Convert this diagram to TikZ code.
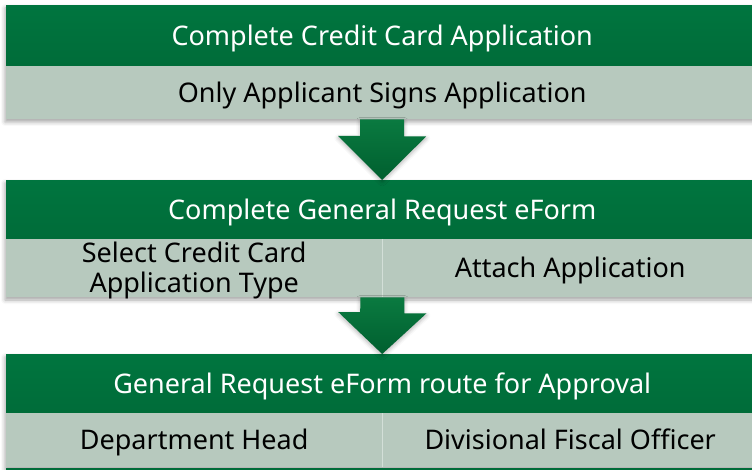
\documentclass[tikz,border=0pt]{standalone}
\usepackage{fontspec}
\setmainfont{Noto Sans}
\usetikzlibrary{shadows.blur}
\definecolor{hdrgreen}{HTML}{00753F}
\definecolor{hdrgreendark}{HTML}{006C39}
\definecolor{bandgray}{HTML}{B7C9BE}
\definecolor{arrowtop}{HTML}{0A7A40}
\definecolor{arrowtip}{HTML}{005F2F}
\definecolor{divider}{HTML}{D3DFD8}
\begin{document}
\begin{tikzpicture}[x=1pt,y=-1pt,
  txt/.style={font=\fontsize{27}{29}\selectfont, align=center, inner sep=0pt},
  oneline/.style={text height=19.3pt, text depth=0pt},
  header/.style={txt, oneline, text=white, anchor=north west, minimum width=752pt,
    top color=hdrgreen, bottom color=hdrgreendark, draw=none},
  band/.style={txt, text=black, anchor=north west, fill=bandgray, draw=none},
  shadowbox/.style={fill=white, draw=none,
    blur shadow={shadow xshift=-1pt, shadow yshift=-3pt, shadow blur radius=4pt, shadow opacity=35}},
  flowarrow/.style={top color=arrowtop, bottom color=arrowtip, draw=none,
    blur shadow={shadow xshift=0pt, shadow yshift=-2pt, shadow blur radius=4pt, shadow opacity=30}}
]
\useasboundingbox (0,0) rectangle (752,470);
\clip (0,0) rectangle (752,470);

% soft shadows under each block
\path[shadowbox] (6,5) rectangle (760,119);
\path[shadowbox] (6,180) rectangle (760,297);
\path[shadowbox] (6,354) rectangle (760,467);

% block 1
\node[header, minimum height=61pt] (h1) at (6,5) {Complete Credit Card Application};
\node[band, oneline, minimum width=752pt, minimum height=53pt] (b1) at (6,66) {Only Applicant Signs Application};

% block 2
\node[header, minimum height=59pt] (h2) at (6,180) {Complete General Request eForm};
\node[band, minimum width=376pt, minimum height=58pt] (b2l) at (6,239) {};
\node[txt, anchor=base] (b2ltext) at ([yshift=-53pt]b2l.north) {Select Credit Card\\Application Type};
\node[band, oneline, minimum width=376pt, minimum height=58pt] (b2r) at (382,239) {Attach Application};
\draw[divider, line width=1.5pt] (b2l.north east) -- (b2l.south east);

% block 3
\node[header, minimum height=59pt] (h3) at (6,354) {General Request eForm route for Approval};
\node[band, oneline, minimum width=376pt, minimum height=54pt] (b3l) at (6,413) {Department Head};
\node[band, oneline, minimum width=376pt, minimum height=54pt] (b3r) at (382,413) {Divisional Fiscal Officer};
\draw[divider, line width=1.5pt] (b3l.north east) -- (b3l.south east);

% top edge of the following block
\fill[hdrgreendark] (6,468) rectangle (760,480);

% block arrows
\path[flowarrow] (b1.south) ++(-22,0) -- ++(44,0) -- ++(0,17) -- ++(22,0)
  -- (h2.north) -- ++(-44,-44) -- ++(22,0) -- cycle;
\path[flowarrow] (b2l.south east) ++(-22,0) -- ++(44,0) -- ++(0,16) -- ++(22,0)
  -- (h3.north) -- ++(-44,-42) -- ++(22,0) -- cycle;
\end{tikzpicture}
\end{document}
